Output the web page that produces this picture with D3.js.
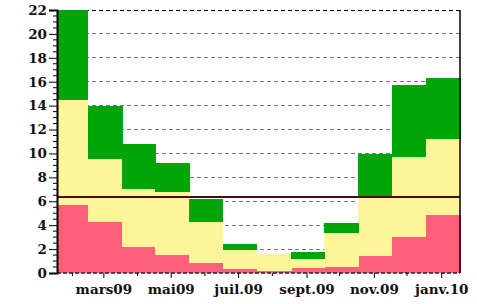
<!DOCTYPE html>
<html><head><meta charset="utf-8">
<script src="https://cdn.jsdelivr.net/npm/d3@7"></script>
<style>body{margin:0;background:#fff}svg{display:block}</style>
</head><body>
<script>
const months = ["2009-02-01","2009-03-01","2009-04-01","2009-05-01","2009-06-01","2009-07-01","2009-08-01","2009-09-01","2009-10-01","2009-11-01","2009-12-01","2010-01-01"];
const redVals    = [5.65, 4.24, 2.2, 1.5, 0.86, 0.3, 0.15, 0.39, 0.48, 1.42, 2.99, 4.85];
const yellowVals = [8.85, 5.3, 4.83, 5.3, 3.38, 1.62, 1.45, 0.78, 2.84, 5.03, 6.74, 6.34];
const greenVals  = [7.5, 4.46, 3.74, 2.38, 1.95, 0.48, 0, 0.56, 0.84, 3.48, 6.0, 5.15];
const thresholdValue = 6.35;
const yTicks = [0,2,4,6,8,10,12,14,16,18,20,22];
const xTickDates = ["2009-03-15","2009-05-15","2009-07-15","2009-09-15","2009-11-15","2010-01-15"];
const xTickLabels = ["mars09","mai09","juil.09","sept.09","nov.09","janv.10"];
const xMinorDates = ["2009-02-15","2009-04-15","2009-06-15","2009-08-15","2009-10-15","2009-12-15"];

const W = 477, H = 304;
const L = 57, R = 460, T = 10, B = 273;
const parse = d3.utcParse("%Y-%m-%d");
const x = d3.scaleUtc().domain([parse("2009-02-01"), parse("2010-02-01")]).range([L, R]);
const y = d3.scaleLinear().domain([0, 22]).range([B, T]);

const svg = d3.select("body").append("svg").attr("width", W).attr("height", H);

const rows = months.map((m, i) => ({start: parse(m), end: d3.utcMonth.offset(parse(m), 1), red: redVals[i], yellow: yellowVals[i], green: greenVals[i]}));
const keys = ["red","yellow","green"];
const colors = {red:"#fd6179", yellow:"#fef59b", green:"#00a50a"};
const series = d3.stack().keys(keys)(rows);

// gridlines
svg.append("g").selectAll("line").data(yTicks.filter(v => v > 0)).join("line")
  .attr("x1", L).attr("x2", R).attr("y1", d => y(d)).attr("y2", d => y(d))
  .attr("stroke", d => d === 22 ? "#000" : "#777").attr("stroke-width", 1)
  .attr("stroke-dasharray", "4,3").attr("shape-rendering","crispEdges");

// bars
svg.append("g").selectAll("g").data(series).join("g")
  .attr("fill", d => colors[d.key])
  .selectAll("rect").data(d => d).join("rect")
  .attr("x", d => x(d.data.start))
  .attr("width", d => x(d.data.end) - x(d.data.start) + 0.5)
  .attr("y", d => y(d[1]))
  .attr("height", d => Math.max(0, y(d[0]) - y(d[1])))
  .attr("shape-rendering","crispEdges");

// threshold line
svg.append("line").attr("x1", L).attr("x2", R)
  .attr("y1", y(thresholdValue)).attr("y2", y(thresholdValue))
  .attr("stroke", "#4a0c10").attr("stroke-width", 2);

// frame
svg.append("line").attr("x1", R).attr("x2", R).attr("y1", T).attr("y2", B).attr("stroke","#000").attr("stroke-width",1.5);
svg.append("line").attr("x1", L).attr("x2", R).attr("y1", B).attr("y2", B).attr("stroke","#222").attr("stroke-width",1.5).attr("stroke-dasharray","4,2");

// y axis
const yAxis = d3.axisLeft(y).tickValues(yTicks).tickSize(8).tickPadding(2);
const gy = svg.append("g").attr("transform", `translate(${L},0)`).call(yAxis);
gy.select(".domain").attr("stroke-width", 2);
gy.selectAll("text").attr("font-family","'DejaVu Serif', serif").attr("font-weight","bold").attr("font-size","13.5px").attr("fill","#111");
const yMinor = d3.range(0, 22.01, 0.5).filter(v => v % 2 !== 0);
gy.append("g").selectAll("line").data(yMinor).join("line")
  .attr("x1", -4).attr("x2", 0).attr("y1", d => y(d)).attr("y2", d => y(d)).attr("stroke","#000");

// x axis
const xAxis = d3.axisBottom(x).tickValues(xTickDates.map(parse)).tickFormat((d, i) => xTickLabels[i]).tickSize(5).tickPadding(6);
const gx = svg.append("g").attr("transform", `translate(0,${B})`).call(xAxis);
gx.select(".domain").remove();
gx.selectAll("text").attr("font-family","'DejaVu Serif', serif").attr("font-weight","bold").attr("font-size","13.5px").attr("fill","#111");
gx.append("g").selectAll("line").data(xMinorDates.map(parse)).join("line")
  .attr("x1", d => x(d)).attr("x2", d => x(d)).attr("y1", 0).attr("y2", 3).attr("stroke","#000");
</script>
</body></html>
